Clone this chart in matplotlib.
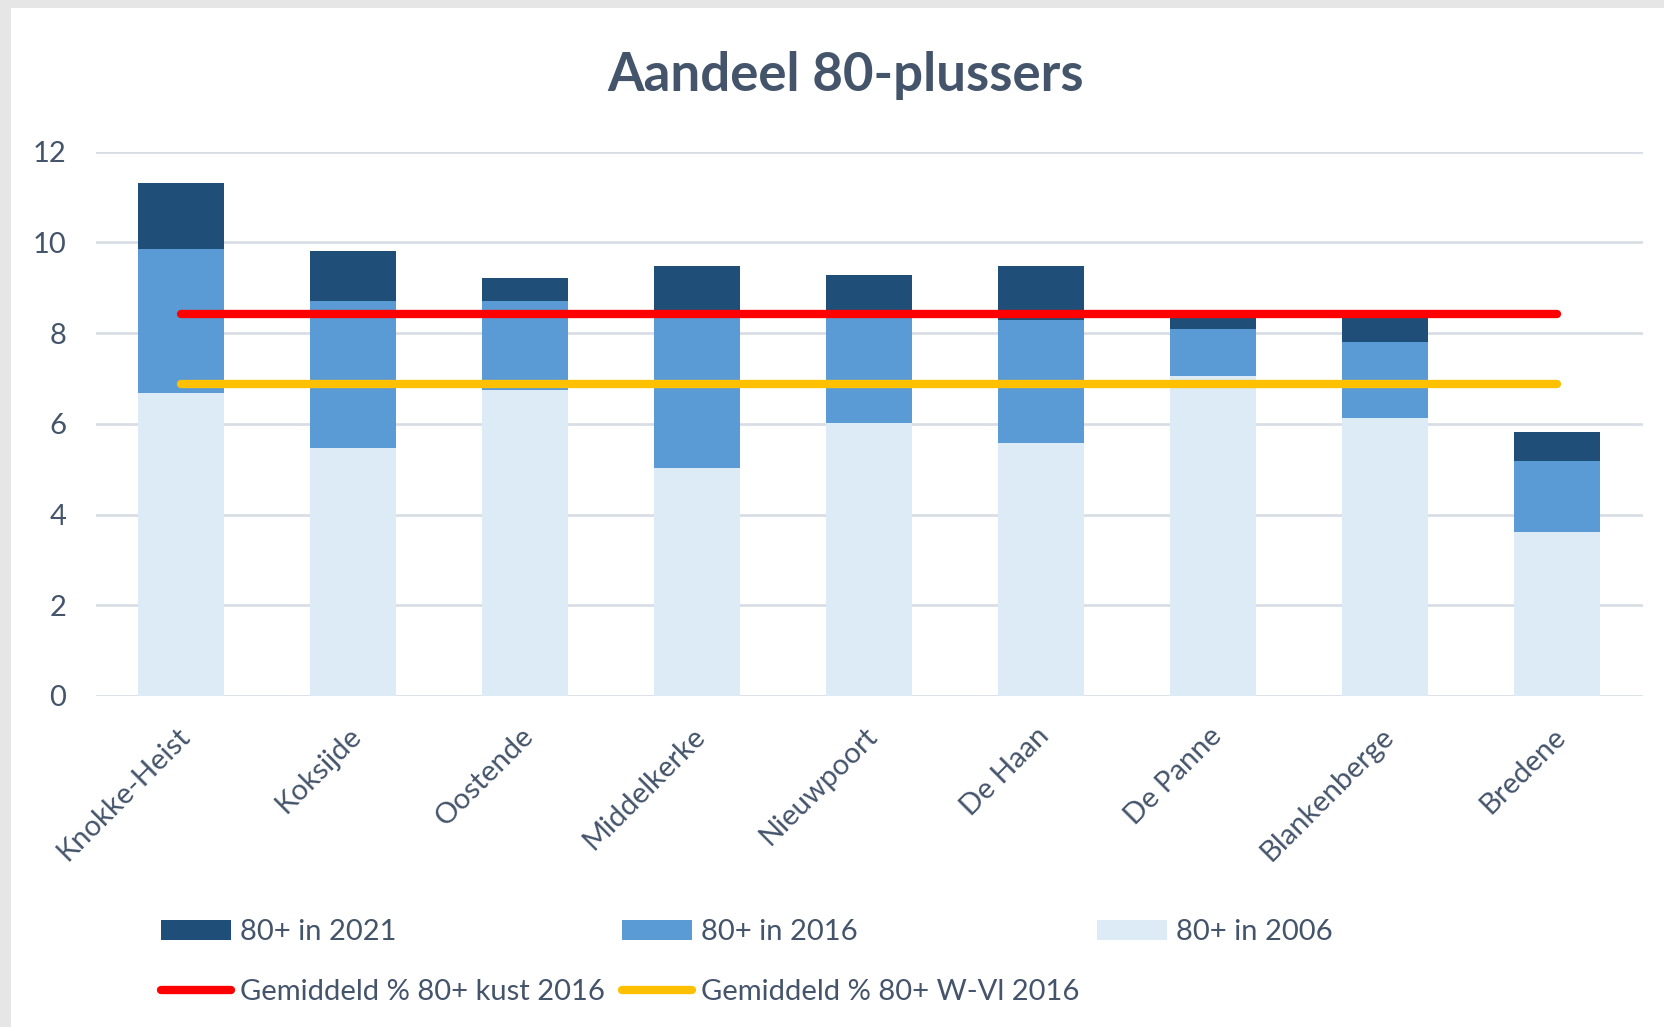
import numpy as np
import matplotlib.pyplot as plt
from matplotlib.patches import Rectangle
import matplotlib.transforms as mtransforms

plt.rcParams['font.family'] = ['Lato', 'DejaVu Sans']

gemeenten = ['Knokke-Heist', 'Koksijde', 'Oostende', 'Middelkerke', 'Nieuwpoort',
             'De Haan', 'De Panne', 'Blankenberge', 'Bredene']
p2021 = [11.30, 9.81, 9.21, 9.48, 9.28, 9.48, 8.36, 8.36, 5.83]
p2016 = [9.85, 8.70, 8.70, 8.45, 8.45, 8.30, 8.09, 7.80, 5.19]
p2006 = [6.69, 5.47, 6.74, 5.02, 6.01, 5.58, 7.06, 6.12, 3.62]
gem_kust_2016 = 8.42
gem_wvl_2016 = 6.87

yticks = [0, 2, 4, 6, 8, 10, 12]

txt = '#44546A'
c21 = '#1F4E79'
c16 = '#5B9BD5'
c06 = '#DDEBF7'

W, H = 1664, 1027
fig = plt.figure(figsize=(W / 100, H / 100), dpi=100)
fig.patch.set_facecolor('#E6E6E6')
# witte grafiekzone, grijze rand boven en links
fig.add_artist(Rectangle((11 / W, 0), 1, 1 - 8 / H, transform=fig.transFigure,
                         facecolor='white', edgecolor='none', zorder=0))

ax = fig.add_axes([95.5 / W, 1 - 696 / H, (1643 - 95.5) / W, (696 - 151.7) / H])
ax.set_facecolor('none')

x = np.arange(len(gemeenten))
bw = 0.5
ax.bar(x, p2021, bw, color=c21, label='80+ in 2021', zorder=2)
ax.bar(x, p2016, bw, color=c16, label='80+ in 2016', zorder=3)
ax.bar(x, p2006, bw, color=c06, label='80+ in 2006', zorder=4)

ax.plot([x[0], x[-1]], [gem_kust_2016] * 2, color='#FF0000', lw=6,
        solid_capstyle='round', label='Gemiddeld % 80+ kust 2016', zorder=5)
ax.plot([x[0], x[-1]], [gem_wvl_2016] * 2, color='#FFC000', lw=6,
        solid_capstyle='round', label='Gemiddeld % 80+ W-Vl 2016', zorder=5)

ax.set_xlim(-0.5, len(gemeenten) - 0.5)
ax.set_ylim(0, 12)
ax.set_yticks(yticks)
ax.set_yticklabels([str(v) for v in yticks])
ax.yaxis.grid(True, color='#D9DEE6', lw=2, zorder=0)
ax.set_axisbelow(True)
for s in ax.spines.values():
    s.set_visible(False)
ax.tick_params(axis='y', length=0, pad=21, labelsize=21, labelcolor=txt)
ax.tick_params(axis='x', length=0, labelbottom=False)

offset = mtransforms.ScaledTranslation(3 / 72, -26 / 72, fig.dpi_scale_trans)
for xi, name in zip(x, gemeenten):
    ax.text(xi, 0, name, rotation=45, ha='right', va='center', rotation_mode='anchor',
            fontsize=21, color=txt, transform=ax.transData + offset)

fig.text(846 / W, 1 - 75 / H, 'Aandeel 80-plussers', ha='center', va='center',
         fontsize=38, fontweight='bold', color=txt)

h, l = ax.get_legend_handles_labels()
order = [2, 0, 3, 1, 4]
leg = fig.legend([h[i] for i in order], [l[i] for i in order], ncol=3,
                 loc='upper left', bbox_to_anchor=(135 / W, 1 - 893 / H),
                 frameon=False, fontsize=21, labelcolor=txt, handlelength=2.4,
                 handletextpad=0.3, columnspacing=0.6, labelspacing=1.15)

fig.savefig('out.png', dpi=100)
